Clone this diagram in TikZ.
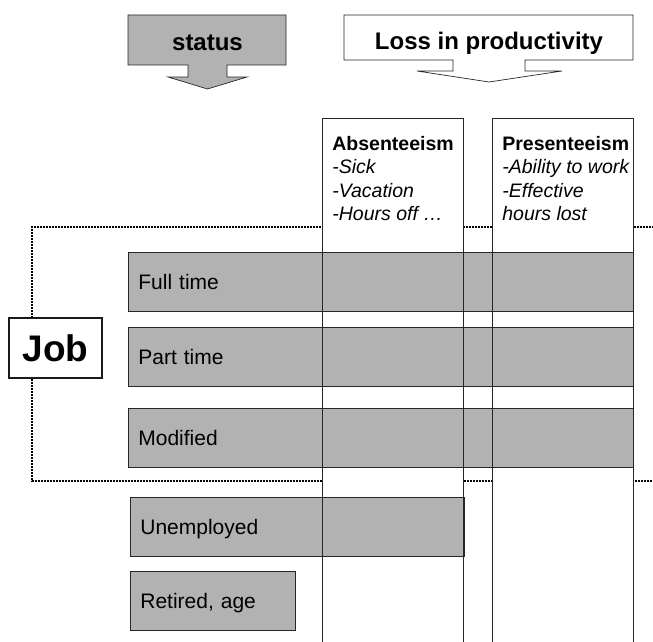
\documentclass[tikz,border=0pt]{standalone}
\usepackage{fontspec}
\setmainfont{Liberation Sans}
\usetikzlibrary{positioning}

\begin{document}
\begin{tikzpicture}[x=1pt, y=-1pt, line width=0.7pt,
  hatch/.style={draw=black!85, fill=black!30},
  bar/.style={hatch, anchor=north west, align=left, inner xsep=10pt, minimum height=59pt,
    text height=15pt, text depth=0pt, font=\fontsize{21}{25}\selectfont},
  col/.style={draw=black!85, fill=white, anchor=north west, minimum width=141pt, minimum height=540pt},
  coltext/.style={align=left, inner sep=0pt, font=\fontsize{19.5}{23.3}\selectfont},
  head/.style={anchor=base, font=\bfseries\fontsize{24}{28}\selectfont}]
  \useasboundingbox (0,0) rectangle (653,642);
  \clip (0,0) rectangle (653,642);

  \draw[hatch] (128,15) -- (286,15) -- (286,65) -- (227,65) -- (227,77) -- (247,77) -- (207.5,89)
    -- (168,77) -- (188,77) -- (188,65) -- (128,65) -- cycle;
  \node[head] (status) at (207.5,51) {status};
  \draw[draw=black!85, fill=white] (344,15) -- (633,15) -- (633,60) -- (525,60) -- (525,71) -- (562,71)
    -- (489,82) -- (417,71) -- (453,71) -- (453,60) -- (344,60) -- cycle;
  \node[head] (loss) at (489,50) {Loss in productivity};

  \draw[black, line width=1.6pt, dash pattern=on 1.6pt off 1.4pt] (660,227) -- (32,227) -- (32,481) -- (660,481);

  \node[col] (absent) at (322,118) {};
  \node[col] (present) at (492,118) {};
  \node[coltext, below right=18pt and 10pt of absent.north west] (absenttext)
    {\textbf{Absenteeism}\\\textit{-Sick}\\\textit{-Vacation}\\\textit{-Hours off …}};
  \node[coltext, below right=18pt and 10pt of present.north west] (presenttext)
    {\textbf{Presenteeism}\\\textit{-Ability to work}\\\textit{-Effective}\\\textit{hours lost}};

  \node[draw=black!90, line width=2pt, fill=white, minimum width=93pt, minimum height=60pt,
    font=\bfseries\fontsize{37}{40}\selectfont] (job) at (55.5,348) {Job};

  \node[bar, text width=485pt] (fulltime) at (128,252) {Full time};
  \node[bar, text width=485pt] (parttime) at (128,327) {Part time};
  \node[bar, text width=485pt] (modified) at (128,408) {Modified};
  \node[bar, text width=314pt] (unemployed) at (130,497) {Unemployed};
  \node[bar, text width=145pt] (retired) at (130,571) {Retired, age};

  \foreach \c in {absent,present}
    \draw[black!85] (\c.south west) |- (\c.north east) -- (\c.south east);
\end{tikzpicture}
\end{document}
